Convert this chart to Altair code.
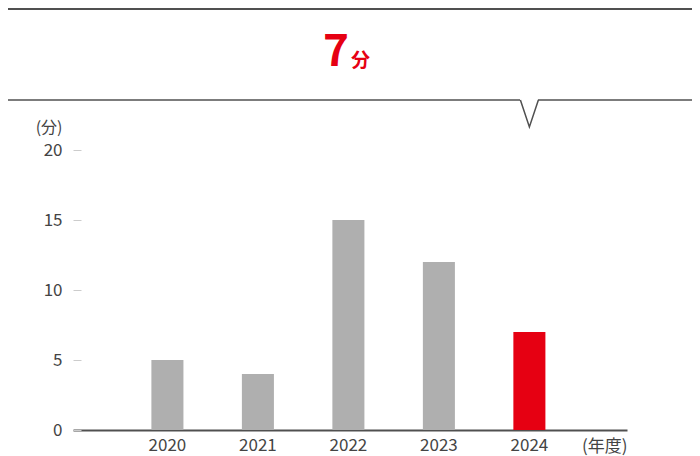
import altair as alt
import pandas as pd

years = ["2020", "2021", "2022", "2023", "2024"]
minutes = [5, 4, 15, 12, 7]
highlight = ["no", "no", "no", "no", "yes"]
y_ticks = [0, 5, 10, 15, 20]
unit_label = "分"
y_title = "(分)"
x_title = "(年度)"

df = pd.DataFrame({"year": years, "minutes": minutes, "hl": highlight})

W, H = 554, 280
GRAY = "#afafaf"
RED = "#e60012"
LINE = "#505050"
TEXT = "#444444"
FONT = "Noto Sans CJK JP"

xscale = alt.Scale(domain=years, paddingInner=0.646, paddingOuter=0.884, align=0.49)
yscale = alt.Scale(domain=[0, 20], nice=False)

base = alt.Chart(df)

bars = base.mark_bar().encode(
    x=alt.X("year:N", scale=xscale, sort=years,
            axis=alt.Axis(title=x_title, titleX=W, titleY=21, titleAlign="right",
                          titleBaseline="alphabetic", titleFont=FONT, titleFontSize=17,
                          titleFontWeight="normal", titleColor=TEXT,
                          labelAngle=0, ticks=False, tickSize=0, labelPadding=7,
                          labelFont=FONT, labelFontSize=17, labelColor=TEXT,
                          domainColor=LINE, domainWidth=2)),
    y=alt.Y("minutes:Q", scale=yscale,
            axis=alt.Axis(values=y_ticks, title=y_title, titleAngle=0, titleAlign="right",
                          titleX=-19, titleY=-23, titleBaseline="middle",
                          titleFont=FONT, titleFontSize=16, titleFontWeight="normal",
                          titleColor=TEXT, domain=False, grid=False, offset=-8,
                          tickSize=8, tickColor="#cccccc", tickWidth=1, labelPadding=11,
                          labelFont=FONT, labelFontSize=17, labelColor=TEXT)),
    color=alt.Color("hl:N", scale=alt.Scale(domain=["no", "yes"], range=[GRAY, RED]),
                    legend=None),
)

big_num = base.transform_filter(alt.datum.hl == "yes").mark_text(
    font=FONT, fontSize=44, fontWeight="bold", color=RED, align="center",
    baseline="alphabetic"
).encode(x=alt.value(263), y=alt.value(-84), text="minutes:Q")

unit = base.transform_filter(alt.datum.hl == "yes").mark_text(
    font=FONT, fontSize=19, fontWeight="bold", color=RED, align="left",
    baseline="alphabetic"
).encode(x=alt.value(278), y=alt.value(-83), text=alt.value(unit_label))

top_rule = base.transform_filter(alt.datum.hl == "yes").mark_rule(
    color=LINE, strokeWidth=2
).encode(x=alt.value(-80), x2=alt.value(W + 80), y=alt.value(-141))

left_rule = base.transform_filter(alt.datum.hl == "yes").mark_rule(
    color=LINE, strokeWidth=1.5
).encode(x=alt.value(-80), x2=alt.value(447), y=alt.value(-50))

right_rule = base.transform_filter(alt.datum.hl == "yes").mark_rule(
    color=LINE, strokeWidth=1.5
).encode(x=alt.value(465), x2=alt.value(W + 80), y=alt.value(-50))

pointer = base.transform_filter(alt.datum.hl == "yes").mark_point(
    shape="M-1,-1.5L0,1.5L1,-1.5", filled=False, stroke=LINE, strokeWidth=1.5,
    size=324, opacity=1
).encode(x=alt.X("year:N", scale=xscale, sort=years), y=alt.value(-36.5))

chart = alt.layer(bars, big_num, unit, top_rule, left_rule, right_rule, pointer).properties(
    width=W, height=H,
    autosize=alt.AutoSizeParams(type="none"),
    padding={"left": 65, "top": 142, "right": 65, "bottom": 26},
).configure_view(stroke=None)

chart.save("out.html", embed_options={"renderer": "svg", "actions": False})
